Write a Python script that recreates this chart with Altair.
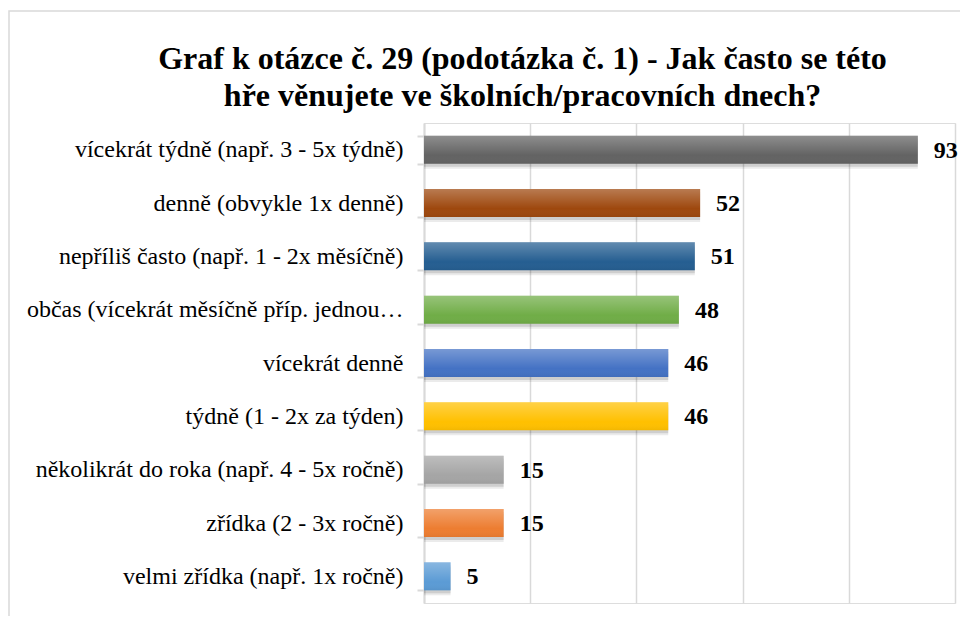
import altair as alt
import pandas as pd

categories = [
    "vícekrát týdně (např. 3 - 5x týdně)",
    "denně (obvykle 1x denně)",
    "nepříliš často (např. 1 - 2x měsíčně)",
    "občas (vícekrát měsíčně příp. jednou týdně)",
    "vícekrát denně",
    "týdně (1 - 2x za týden)",
    "několikrát do roka (např. 4 - 5x ročně)",
    "zřídka (2 - 3x ročně)",
    "velmi zřídka (např. 1x ročně)",
]
values = [93, 52, 51, 48, 46, 46, 15, 15, 5]
colors = ["#636363", "#9E480E", "#255E91", "#70AD47", "#4472C4",
          "#FFC000", "#A5A5A5", "#ED7D31", "#5B9BD5"]
title_lines = ["Graf k otázce č. 29 (podotázka č. 1) - Jak často se této",
               "hře věnujete ve školních/pracovních dnech?"]

df = pd.DataFrame({"cat": categories, "val": values})

SERIF = "Liberation Serif"
GRID = "#d9d9d9"

y_enc = alt.Y(
    "cat:N",
    sort=categories,
    title=None,
    scale=alt.Scale(paddingInner=0.475, paddingOuter=0.2375),
    axis=alt.Axis(
        labelFont=SERIF, labelFontSize=24, labelColor="#000000",
        labelLimit=380, labelPadding=14,
        tickBand="extent", tickSize=7, tickColor=GRID, tickWidth=2,
        domainColor=GRID, domainWidth=2, grid=False,
    ),
)
x_enc = alt.X(
    "val:Q",
    title=None,
    scale=alt.Scale(domain=[0, 100], nice=False),
    axis=alt.Axis(values=[0, 20, 40, 60, 80, 100], labels=False, ticks=False,
                  domain=False, grid=True, gridColor=GRID, gridWidth=1.5),
)

base = alt.Chart(df)

shadow = base.mark_bar(color="#000000", opacity=0.12, yOffset=3, x2Offset=2).encode(
    x=x_enc, y=y_enc
)
shadow2 = base.mark_bar(color="#000000", opacity=0.08, yOffset=5, x2Offset=3).encode(
    x=x_enc, y=y_enc
)

bars = base.mark_bar().encode(
    x=x_enc,
    y=y_enc,
    color=alt.Color("cat:N", scale=alt.Scale(domain=categories, range=colors), legend=None),
)

gloss = base.mark_bar(
    color=alt.Gradient(
        gradient="linear", x1=0, x2=0, y1=0, y2=1,
        stops=[alt.GradientStop(color="rgba(255,255,255,0.28)", offset=0),
               alt.GradientStop(color="rgba(255,255,255,0.0)", offset=0.7),
               alt.GradientStop(color="rgba(0,0,0,0.05)", offset=1)],
    )
).encode(x=x_enc, y=y_enc)

labels = base.mark_text(
    align="left", baseline="middle", dx=16, dy=1,
    font=SERIF, fontSize=24, fontWeight="bold", color="#000000",
).encode(x=x_enc, y=y_enc, text=alt.Text("val:Q"))

one = pd.DataFrame({"f": [0]})

frame = alt.Chart(one).mark_rect(
    fillOpacity=0, stroke=GRID, strokeWidth=1.5
).encode(
    x=alt.value(-415), x2=alt.value(700), y=alt.value(-112), y2=alt.value(700)
)

title_style = dict(font=SERIF, fontSize=32, fontWeight="bold", color="#000000",
                   align="center", baseline="alphabetic")
title1 = alt.Chart(one).mark_text(text=title_lines[0], **title_style).encode(
    x=alt.value(98.5), y=alt.value(-54)
)
title2 = alt.Chart(one).mark_text(text=title_lines[1], **title_style).encode(
    x=alt.value(98.5), y=alt.value(-17)
)

chart = alt.layer(frame, shadow2, shadow, bars, gloss, labels, title1, title2).properties(
    width=531,
    height=480,
    padding={"left": 416, "top": 115, "right": 5, "bottom": 13},
    autosize=alt.AutoSizeParams(type="none"),
).configure_view(strokeWidth=0).configure(background="#ffffff")

chart.save("out.html", embed_options={"renderer": "svg", "actions": False})
